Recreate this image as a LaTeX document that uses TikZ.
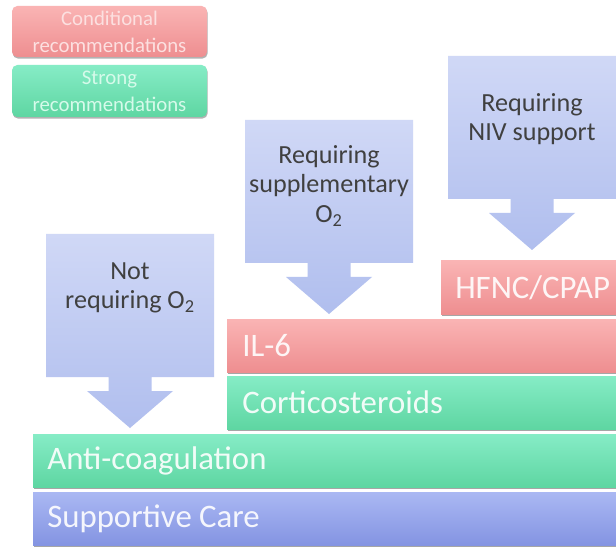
\documentclass[tikz,border=0pt]{standalone}
\usepackage{fontspec}
\setmainfont{Carlito}
\usetikzlibrary{shadows}
\definecolor{redT}{RGB}{250,180,180}
\definecolor{redB}{RGB}{238,142,144}
\definecolor{grnT}{RGB}{134,236,198}
\definecolor{grnB}{RGB}{94,214,162}
\definecolor{bluT}{RGB}{170,184,243}
\definecolor{bluB}{RGB}{132,148,226}
\definecolor{arrT}{RGB}{208,216,246}
\definecolor{arrB}{RGB}{176,190,238}
\definecolor{txtD}{RGB}{64,64,64}
\tikzset{
  barshape/.style={drop shadow={shadow xshift=0.6pt,shadow yshift=-1.4pt,fill=black,opacity=0.35}},
  redbar/.style={barshape,top color=redT,bottom color=redB},
  grnbar/.style={barshape,top color=grnT,bottom color=grnB},
  blubar/.style={barshape,top color=bluT,bottom color=bluB},
  bartext/.style={anchor=west,text=white,text opacity=0.9,font=\fontsize{24.6}{28}\selectfont,inner sep=0pt},
  arrshape/.style={top color=arrT,bottom color=arrB},
  arrtext/.style={align=center,text=txtD,font=\fontsize{19.6}{22}\selectfont,inner sep=0pt},
  legbox/.style={rounded corners=4pt,drop shadow={shadow xshift=0.5pt,shadow yshift=-1.2pt,fill=black,opacity=0.3}},
  legtext/.style={align=center,font=\fontsize{15.6}{20}\selectfont,inner sep=0pt},
}
\newcommand{\blockarrow}[3]{% center x, top y, style
  \path[#3] (#1-84,#2) -- (#1+84,#2) -- (#1+84,#2+143) -- (#1+21.5,#2+143)
    -- (#1+21.5,#2+157) -- (#1+43,#2+157) -- (#1,#2+194) -- (#1-43,#2+157)
    -- (#1-21.5,#2+157) -- (#1-21.5,#2+143) -- (#1-84,#2+143) -- cycle;}
\begin{document}
\begin{tikzpicture}[x=0.75pt,y=-0.75pt]
\useasboundingbox (0,0) rectangle (616,548);
\fill[white] (0,0) rectangle (616,548);

% legend
\path[legbox,top color=redT,bottom color=redB] (12,6) rectangle (207,57);
\node[legtext,text={rgb,255:red,252;green,224;blue,224}] (cond) at (109.5,32) {Conditional\\recommendations};
\path[legbox,top color=grnT,bottom color=grnB] (12,65) rectangle (207,117);
\node[legtext,text={rgb,255:red,214;green,250;blue,234}] (strong) at (109.5,91) {Strong\\recommendations};

% bars
\path[blubar] (33,492) rectangle (622,545);
\node[bartext] (supp) at (47,518.5) {Supportive Care};
\path[grnbar] (33,434) rectangle (622,487);
\node[bartext] (anti) at (47,460.5) {Anti-coagulation};
\path[grnbar] (227,376) rectangle (622,429);
\node[bartext] (cort) at (242,402.5) {Corticosteroids};
\path[redbar] (227,319) rectangle (622,372);
\node[bartext] (il6) at (242,345.5) {IL-6};
\path[redbar] (441,261) rectangle (622,314);
\node[bartext] (hfnc) at (455,287.5) {HFNC/CPAP};

% block arrows
\blockarrow{130}{234}{arrshape}
\node[arrtext] (notreq) at (130,288) {Not\\requiring O\textsubscript{2}};
\blockarrow{329}{120}{arrshape}
\node[arrtext] (suppl) at (329,186) {Requiring\\supplementary\\O\textsubscript{2}};
\blockarrow{532}{56}{arrshape}
\node[arrtext] (niv) at (532,119) {Requiring\\NIV support};
\end{tikzpicture}
\end{document}
